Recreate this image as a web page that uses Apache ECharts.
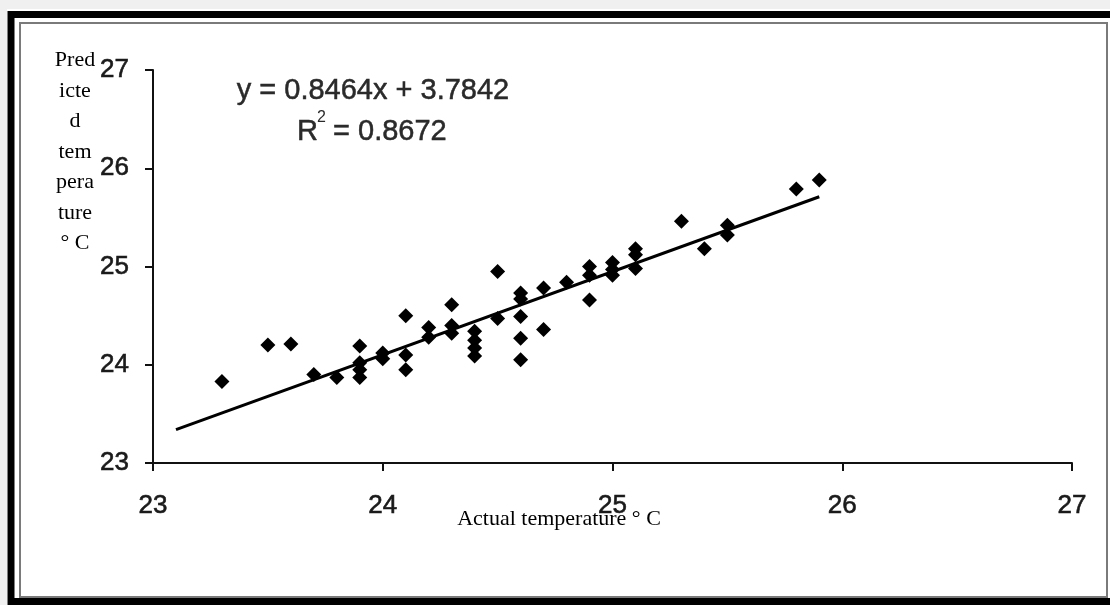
<!DOCTYPE html>
<html>
<head>
<meta charset="utf-8">
<script src="https://cdn.jsdelivr.net/npm/echarts@6/dist/echarts.min.js"></script>
<style>
html,body{margin:0;padding:0;background:#fff;}
#chart{width:1110px;height:605px;}
</style>
</head>
<body>
<div id="chart"></div>
<script>
// Actual temperature (°C)
const actualTemp = [23.3,23.5,23.6,23.7,23.8,23.9,23.9,23.9,23.9,24.0,24.0,24.1,24.1,24.1,24.2,24.2,24.3,24.3,24.3,24.4,24.4,24.4,24.4,24.5,24.5,24.6,24.6,24.6,24.6,24.6,24.7,24.7,24.8,24.9,24.9,24.9,25.0,25.0,25.0,25.1,25.1,25.1,25.3,25.4,25.5,25.5,25.8,25.9];
// Predicted temperature (°C)
const predictedTemp = [23.83,24.20,24.21,23.90,23.87,24.19,24.02,23.95,23.87,24.12,24.06,24.10,23.95,24.50,24.38,24.28,24.61,24.40,24.32,24.34,24.25,24.17,24.09,24.95,24.47,24.73,24.67,24.49,24.27,24.05,24.78,24.36,24.84,25.00,24.91,24.66,25.04,24.97,24.91,25.18,25.12,24.98,25.46,25.18,25.42,25.32,25.79,25.88];
// Linear trend line end points
const trendX = [23.1, 25.9];
const trendY = [23.34, 25.71];
// Axis ticks
const axisMin = 23, axisMax = 27, axisStep = 1;
const equationText = 'y = 0.8464x + 3.7842';
const r2Label = 'R';
const r2Value = ' = 0.8672';
const xAxisTitle = 'Actual temperature \u00b0 C';
const yAxisTitle = 'Pred\nicte\nd\ntem\npera\nture\n\u00b0 C';

const points = actualTemp.map((x, i) => [x, predictedTemp[i]]);
const trend = trendX.map((x, i) => [x, trendY[i]]);

const chart = echarts.init(document.getElementById('chart'), null, {renderer: 'canvas'});
const labelStyle = {color: '#1a1a1a', fontFamily: 'Liberation Sans, Arial, sans-serif', fontSize: 26, textBorderColor: '#1a1a1a', textBorderWidth: 0.6};
const eqFont = '29px "Liberation Sans", Arial, sans-serif';
const eqColor = '#2a2a2a';
chart.setOption({
  backgroundColor: '#ffffff',
  animation: false,
  grid: {left: 153, right: 38, top: 70, bottom: 142, containLabel: false},
  xAxis: {
    type: 'value', min: axisMin, max: axisMax, interval: axisStep,
    axisLine: {show: true, onZero: false, lineStyle: {color: '#111', width: 2}},
    axisTick: {show: true, length: 8, lineStyle: {color: '#111', width: 2}},
    splitLine: {show: false},
    axisLabel: Object.assign({margin: 30}, labelStyle)
  },
  yAxis: {
    type: 'value', min: axisMin, max: axisMax, interval: axisStep,
    axisLine: {show: true, onZero: false, lineStyle: {color: '#111', width: 2}},
    axisTick: {show: true, length: 8, lineStyle: {color: '#111', width: 2}},
    splitLine: {show: false},
    axisLabel: Object.assign({margin: 24}, labelStyle)
  },
  graphic: [
    {type: 'rect', left: 0, top: 0, shape: {width: 1110, height: 9}, style: {fill: '#f0f0f0'}, z: -1},
    {type: 'rect', left: 0, top: 0, shape: {width: 7, height: 605}, style: {fill: '#f0f0f0'}, z: -1},
    {type: 'rect', shape: {x: 11, y: 14.5, width: 1110, height: 587}, style: {fill: 'none', stroke: '#000', lineWidth: 7}, z: 10},
    {type: 'rect', shape: {x: 20, y: 23, width: 1087, height: 574}, style: {fill: 'none', stroke: '#7a7a7a', lineWidth: 2}, z: 10},
    {type: 'text', x: 75, y: 45, style: {text: yAxisTitle, fill: '#000', font: '22px "Liberation Serif", "Times New Roman", serif', textAlign: 'center', textVerticalAlign: 'top', lineHeight: 30.5}, z: 10},
    {type: 'text', x: 559, y: 519, style: {text: xAxisTitle, fill: '#000', font: '22px "Liberation Serif", "Times New Roman", serif', textAlign: 'center', textVerticalAlign: 'middle'}, z: 10},
    {type: 'text', x: 373, y: 91, style: {text: equationText, fill: eqColor, stroke: eqColor, lineWidth: 0.5, font: eqFont, textAlign: 'center', textVerticalAlign: 'middle'}, z: 10},
    {type: 'text', x: 297, y: 132, style: {text: r2Label, fill: eqColor, stroke: eqColor, lineWidth: 0.5, font: eqFont, textAlign: 'left', textVerticalAlign: 'middle'}, z: 10},
    {type: 'text', x: 317, y: 118, style: {text: '2', fill: eqColor, font: '16px "Liberation Sans", Arial, sans-serif', textAlign: 'left', textVerticalAlign: 'middle'}, z: 10},
    {type: 'text', x: 325, y: 132, style: {text: r2Value, fill: eqColor, stroke: eqColor, lineWidth: 0.5, font: eqFont, textAlign: 'left', textVerticalAlign: 'middle'}, z: 10}
  ],
  series: [
    {
      type: 'scatter', data: points, symbol: 'diamond', symbolSize: 15,
      itemStyle: {color: '#000', opacity: 1}, z: 3
    },
    {
      type: 'line', data: trend, showSymbol: false, symbol: 'none',
      lineStyle: {color: '#000', width: 3}, z: 4
    }
  ]
});
</script>
</body>
</html>
